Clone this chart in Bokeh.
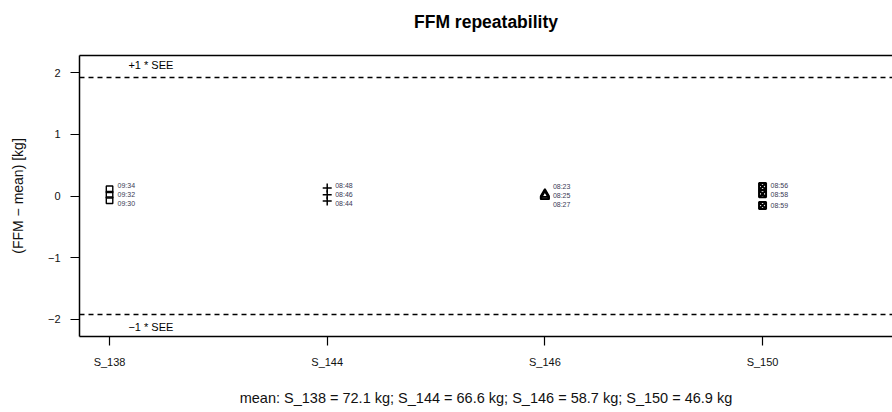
from bokeh.plotting import figure
from bokeh.models import LinearAxis, FixedTicker, Range1d, Span
from bokeh.core.properties import value
from bokeh.embed import file_html
from bokeh.resources import INLINE

# ---- data ----
subjects = ["S_138", "S_144", "S_146", "S_150"]
mean_ffm = [72.1, 66.6, 58.7, 46.9]
s138_times = ["09:30", "09:32", "09:34"]
s138_diff = [-0.07, 0.02, 0.11]
s144_times = ["08:44", "08:46", "08:48"]
s144_diff = [-0.08, 0.02, 0.13]
s146_times = ["08:27", "08:25", "08:23"]
s146_diff = [-0.01, 0.01, 0.03]
s150_times = ["08:59", "08:58", "08:56"]
s150_diff = [-0.155, 0.035, 0.155]
see = 1.92
y_ticks = [-2, -1, 0, 1, 2]

FONT = "Liberation Sans"
PX_PER_UNIT = 281 / 4.554
GAP = 9.0 / PX_PER_UNIT


def spread(vals):
    pos = sorted(vals)
    order = sorted(range(len(vals)), key=lambda i: vals[i])
    for _ in range(50):
        for i in range(len(pos) - 1):
            d = pos[i + 1] - pos[i]
            if d < GAP:
                sh = (GAP - d) / 2
                pos[i] -= sh
                pos[i + 1] += sh
    out = [0] * len(vals)
    for k, i in enumerate(order):
        out[i] = pos[k]
    return out


p = figure(width=892, height=412, output_backend="svg", toolbar_location=None, title=None,
           x_range=Range1d(0.862, 4.597), y_range=Range1d(-2.277, 2.277),
           x_axis_location=None, y_axis_location=None,
           min_border_left=79, min_border_right=0, min_border_top=55, min_border_bottom=76)
p.xgrid.visible = False
p.ygrid.visible = False
p.outline_line_color = None
p.background_fill_color = "white"
p.border_fill_color = "white"

left = LinearAxis(ticker=FixedTicker(ticks=y_ticks))
left.major_label_overrides = {t: (("\u2212" + str(abs(t))) if t < 0 else str(t)) for t in y_ticks}
left.axis_line_width = 1.5
left.major_tick_line_width = 1.2
left.major_tick_out = 9
left.major_tick_in = 0
left.minor_tick_line_color = None
left.major_label_standoff = 10
left.major_label_orientation = "horizontal"
left.major_label_text_font = FONT
left.major_label_text_font_size = "11px"
left.major_label_text_color = "#111111"
left.axis_label = "(FFM \u2212 mean) [kg]"
left.axis_label_text_font = FONT
left.axis_label_text_font_size = "14px"
left.axis_label_text_font_style = "normal"
left.axis_label_text_color = "#111111"
left.axis_label_standoff = 19
p.add_layout(left, "left")

below = LinearAxis(ticker=FixedTicker(ticks=list(range(1, len(subjects) + 1))))
below.major_label_overrides = {i + 1: s for i, s in enumerate(subjects)}
below.axis_line_width = 1.5
below.major_tick_line_width = 1.2
below.major_tick_out = 9
below.major_tick_in = 0
below.minor_tick_line_color = None
below.major_label_standoff = 10
below.major_label_text_font = FONT
below.major_label_text_font_size = "11px"
below.major_label_text_color = "#111111"
below.axis_label = "mean: " + "; ".join(f"{s} = {m:.1f} kg" for s, m in zip(subjects, mean_ffm))
below.axis_label_text_font = FONT
below.axis_label_text_font_size = "14.5px"
below.axis_label_text_font_style = "normal"
below.axis_label_text_color = "#111111"
below.axis_label_standoff = 19
p.add_layout(below, "below")

# top border of the box, carrying the chart title
above = LinearAxis(ticker=FixedTicker(ticks=[]))
above.axis_line_width = 1.5
above.major_tick_out = 0
above.major_tick_in = 0
above.minor_tick_line_color = None
above.major_label_text_font_size = "0px"
above.major_label_standoff = 0
above.axis_label = "FFM repeatability"
above.axis_label_text_font = FONT
above.axis_label_text_font_size = "17.5px"
above.axis_label_text_font_style = "bold"
above.axis_label_text_color = "black"
above.axis_label_standoff = 24
p.add_layout(above, "above")

for loc in (see, -see):
    p.add_layout(Span(location=loc, dimension="width", line_color="black",
                      line_dash="5 4", line_width=1.5))

p.text(x=[1.19, 1.19], y=[see + 0.195, -(see + 0.195)], text=["+1 * SEE", "\u22121 * SEE"],
       text_align="center", text_baseline="middle", text_font=value(FONT),
       text_font_size="11px", text_color="black")

groups = [
    (s138_diff, s138_times, dict(marker="square", size=6.5, fill_color=None, line_width=1.4)),
    (s144_diff, s144_times, dict(marker="cross", size=9, line_width=1.5)),
    (s146_diff, s146_times, dict(marker="triangle", size=9, fill_color=None, line_width=1.7)),
    (s150_diff, s150_times, dict(marker="square_x", size=7, fill_color=None, line_width=2)),
]
for gi, (vals, tms, style) in enumerate(groups):
    xs = [gi + 1] * len(vals)
    p.scatter(x=xs, y=vals, line_color="black", **style)
    p.text(x=xs, y=spread(vals), text=tms, x_offset=8, text_align="left",
           text_baseline="middle", text_font=value(FONT), text_font_size="7px",
           text_color="#3a3a55")

open("out.html", "w").write(file_html(p, INLINE))
